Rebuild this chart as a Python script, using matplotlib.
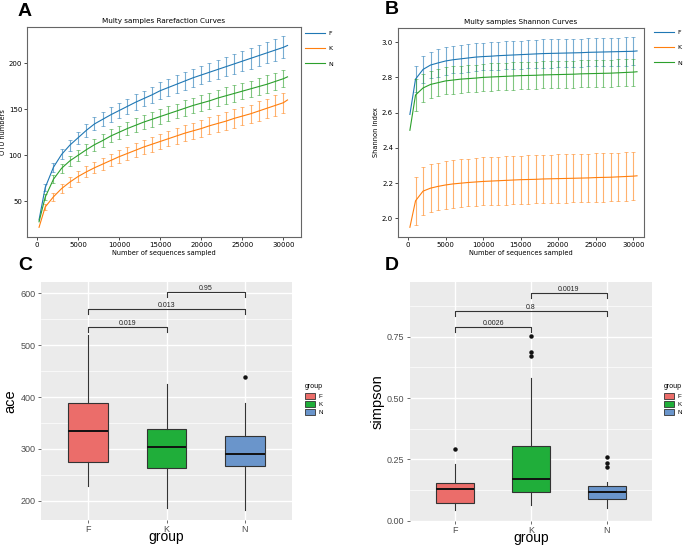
import matplotlib
matplotlib.use("Agg")
import matplotlib.pyplot as plt
from matplotlib.patches import Patch
from matplotlib.lines import Line2D

# ---- data -------------------------------------------------------------
groups = ["F", "K", "N"]

# rarefaction (panel A): curve points and error bars every 1000 reads
depth_curve = [250] + list(range(1000, 30001, 1000)) + [30500]
depth_err = list(range(1000, 30001, 1000))

otu_F = [30, 65, 87, 101, 111, 119, 127, 134, 139, 144,
         148.5, 153, 157.5, 161.5, 165.5, 170, 173.5, 177, 180.5, 184,
         187, 190, 193, 196, 199, 202, 205, 208, 211, 214, 217, 219]
otu_K = [22, 44, 55, 64, 71, 77, 82, 86.5, 90.5, 94.5,
         98.5, 102, 105.5, 109, 112, 115, 118, 121, 124, 126.5,
         129, 132, 134.5, 137, 140, 142.5, 145, 148, 151, 154, 157, 160]
otu_N = [28, 54.6, 74, 86, 94, 100, 106, 111.5, 116, 121,
         125, 129, 132.5, 136, 139, 142, 145, 148, 151, 154,
         156.5, 159, 162, 164.5, 167, 169.5, 172, 174.5, 177, 180, 183, 185]
otu_err_F = [4, 5, 5.5, 6, 6.5, 7, 7, 7.5, 8, 8, 8, 8.5, 8.5, 9, 9,
             9, 9.5, 9.5, 10, 10, 10, 10.5, 10.5, 11, 11, 11, 11.5, 11.5, 12, 12]
otu_err_K = [3, 4, 4.5, 5, 5.5, 6, 6, 6.5, 6.5, 7, 7, 7.5, 7.5, 8, 8,
             8, 8.5, 8.5, 9, 9, 9, 9.5, 9.5, 10, 10, 10, 10.5, 10.5, 11, 11]
otu_err_N = [3.5, 4.5, 5, 5.5, 6, 6, 6.5, 7, 7, 7, 7.5, 7.5, 7.5, 8, 8,
             8, 8, 8.5, 8.5, 8.5, 8.5, 9, 9, 9, 9, 9, 9.5, 9.5, 9.5, 9.5]

# shannon curves (panel B)
sh_F = [2.59, 2.79, 2.845, 2.87, 2.882, 2.893, 2.90, 2.905, 2.91, 2.915,
        2.918, 2.92, 2.923, 2.925, 2.927, 2.929, 2.931, 2.933, 2.935, 2.936,
        2.937, 2.938, 2.939, 2.94, 2.942, 2.943, 2.944, 2.945, 2.946, 2.947, 2.948, 2.95]
sh_K = [1.95, 2.10, 2.155, 2.172, 2.182, 2.19, 2.196, 2.20, 2.204, 2.207,
        2.21, 2.212, 2.214, 2.216, 2.218, 2.22, 2.221, 2.222, 2.224, 2.225,
        2.226, 2.227, 2.228, 2.229, 2.23, 2.232, 2.233, 2.234, 2.236, 2.238, 2.24, 2.242]
sh_N = [2.50, 2.70, 2.74, 2.76, 2.77, 2.78, 2.785, 2.79, 2.793, 2.796,
        2.80, 2.802, 2.804, 2.806, 2.808, 2.81, 2.811, 2.812, 2.814, 2.815,
        2.816, 2.817, 2.818, 2.82, 2.821, 2.822, 2.823, 2.824, 2.826, 2.828, 2.83, 2.832]
sh_err_F = [0.075, 0.076, 0.076, 0.077, 0.077, 0.077, 0.078, 0.078, 0.078, 0.078,
            0.078, 0.079, 0.079, 0.079, 0.079, 0.079, 0.079, 0.08, 0.08, 0.08,
            0.08, 0.08, 0.08, 0.08, 0.08, 0.08, 0.08, 0.08, 0.08, 0.08]
sh_err_K = [0.135, 0.135, 0.135, 0.135, 0.136, 0.136, 0.136, 0.136, 0.136, 0.136,
            0.136, 0.136, 0.137, 0.137, 0.137, 0.137, 0.137, 0.137, 0.137, 0.137,
            0.137, 0.137, 0.137, 0.137, 0.137, 0.137, 0.137, 0.137, 0.137, 0.137]
sh_err_N = [0.09, 0.08, 0.078, 0.077, 0.077, 0.077, 0.077, 0.077, 0.077, 0.077,
            0.077, 0.077, 0.077, 0.077, 0.077, 0.077, 0.077, 0.077, 0.077, 0.077,
            0.077, 0.077, 0.077, 0.077, 0.077, 0.077, 0.077, 0.077, 0.077, 0.077]

# ace boxplot (panel C): whislo, q1, median, q3, whishi, outliers
ace_whislo = [228, 187, 183]
ace_q1 = [275, 263, 268]
ace_med = [335, 303, 290]
ace_q3 = [388, 338, 325]
ace_whishi = [519, 425, 388]
ace_fliers = [[], [], [438]]
ace_pvals = [("F", "K", "0.019"), ("F", "N", "0.013"), ("K", "N", "0.95")]

# simpson boxplot (panel D)
simp_whislo = [0.043, 0.064, 0.050]
simp_q1 = [0.073, 0.118, 0.088]
simp_med = [0.129, 0.170, 0.118]
simp_q3 = [0.153, 0.306, 0.140]
simp_whishi = [0.230, 0.583, 0.156]
simp_fliers = [[0.293], [0.753, 0.689, 0.673], [0.261, 0.234, 0.219]]
simp_pvals = [("F", "K", "0.0026"), ("F", "N", "0.8"), ("K", "N", "0.0019")]

# ---- style --------------------------------------------------------------
W, H = 685, 545
line_cols = {"F": "#1f77b4", "K": "#ff7f0e", "N": "#2ca02c"}
box_cols = {"F": "#EB6D6A", "K": "#20AE3A", "N": "#6A95CB"}
GG = "Liberation Sans"

fig = plt.figure(figsize=(W / 100, H / 100), dpi=100)


def px_axes(l, t, r, b):
    return fig.add_axes([l / W, 1 - b / H, (r - l) / W, (b - t) / H])


def curve_panel(ax, curves, errs, title, ylabel, xlim, ylim, yticks, leg_xy):
    for g in groups:
        c = line_cols[g]
        ax.plot(depth_curve, curves[g], color=c, lw=0.8, label=g)
        pts = curves[g][1:31]
        ax.errorbar(depth_err, pts, yerr=errs[g], fmt="none", ecolor=c,
                    elinewidth=0.8, capsize=1.2, capthick=0.6, alpha=0.6)
    ax.set_xlim(*xlim)
    ax.set_ylim(*ylim)
    ax.set_xticks(range(0, 30001, 5000))
    ax.set_yticks(yticks)
    ax.tick_params(labelsize=5, length=2, width=0.5, pad=1.5)
    for s in ax.spines.values():
        s.set_color("#666666")
        s.set_linewidth(0.8)
    ax.set_title(title, fontsize=5.2, pad=3)
    ax.set_xlabel("Number of sequences sampled", fontsize=4.8, labelpad=1.5)
    ax.set_ylabel(ylabel, fontsize=4.8, labelpad=2)
    handles = [Line2D([], [], color=line_cols[g], lw=0.8) for g in groups]
    ax.legend(handles, groups, loc="upper left", bbox_to_anchor=leg_xy,
              bbox_transform=fig.transFigure, frameon=False, fontsize=4.5,
              handlelength=3.2, labelspacing=1.6, handletextpad=0.6,
              borderaxespad=0)


def box_panel(ax, whislo, q1, med, q3, whishi, fliers, pvals, bracket_y,
              tick_drop, ylabel, ylim, yticks, yminor, ylabels, leg_xy):
    ax.set_facecolor("#EBEBEB")
    for s in ax.spines.values():
        s.set_visible(False)
    for y in yticks:
        ax.axhline(y, color="white", lw=1.0, zorder=0)
    for y in yminor:
        ax.axhline(y, color="white", lw=0.5, zorder=0)
    pos = [1, 2, 3]
    for x in pos:
        ax.axvline(x, color="white", lw=1.0, zorder=0)
    stats = []
    for i, g in enumerate(groups):
        stats.append(dict(med=med[i], q1=q1[i], q3=q3[i], whislo=whislo[i],
                          whishi=whishi[i], fliers=fliers[i], label=g))
    bp = ax.bxp(stats, positions=pos, widths=0.5, patch_artist=True,
                showcaps=False,
                boxprops=dict(edgecolor="#333333", linewidth=0.8),
                whiskerprops=dict(color="#333333", linewidth=0.8),
                medianprops=dict(color="#111111", linewidth=1.4),
                flierprops=dict(marker="o", markersize=2.2,
                                markerfacecolor="#111111",
                                markeredgecolor="#111111"))
    for patch, g in zip(bp["boxes"], groups):
        patch.set_facecolor(box_cols[g])
    for (a, b, lab), y in zip(pvals, bracket_y):
        xa, xb = groups.index(a) + 1, groups.index(b) + 1
        ax.plot([xa, xa, xb, xb], [y - tick_drop, y, y, y - tick_drop],
                color="#333333", lw=0.8)
        ax.text((xa + xb) / 2, y, lab, ha="center", va="bottom",
                fontsize=5, family=GG, color="#222222")
    ax.set_xlim(0.4, 3.6)
    ax.set_ylim(*ylim)
    ax.set_xticks(pos)
    ax.set_xticklabels(groups)
    ax.set_yticks(yticks)
    ax.set_yticklabels(ylabels)
    ax.tick_params(labelsize=6.5, colors="#333333", labelcolor="#4D4D4D",
                   length=2.5, width=0.5, pad=1.5)
    ax.tick_params(axis="x", pad=0.8)
    for t in ax.get_xticklabels() + ax.get_yticklabels():
        t.set_family(GG)
    ax.set_xlabel("group", fontsize=10, family=GG)
    ax.xaxis.label.set_va("baseline")
    ax.xaxis.set_label_coords(0.5, -20.5 / 238)
    ax.set_ylabel(ylabel, fontsize=10.5, family=GG, labelpad=2)
    handles = [Patch(facecolor=box_cols[g], edgecolor="#333333", lw=0.6)
               for g in groups]
    leg = ax.legend(handles, groups, title="group", loc="upper left",
                    bbox_to_anchor=leg_xy, bbox_transform=fig.transFigure,
                    frameon=False, prop=dict(family=GG, size=4.5),
                    handlelength=1.6, handleheight=1.1, labelspacing=0.35,
                    handletextpad=0.6, borderaxespad=0)
    leg.get_title().set_fontsize(5)
    leg.get_title().set_family(GG)
    leg._legend_box.align = "left"


# ---- panel A ----------------------------------------------------------
axA = px_axes(27, 27, 301, 237)
curve_panel(axA, {"F": otu_F, "K": otu_K, "N": otu_N},
            {"F": otu_err_F, "K": otu_err_K, "N": otu_err_N},
            "Multy samples Rarefaction Curves", "OTU numbers",
            (-1216, 32140), (11.5, 239), [50, 100, 150, 200],
            (302 / W, 1 - 28 / H))

# ---- panel B ----------------------------------------------------------
axB = px_axes(398, 28, 644, 237)
curve_panel(axB, {"F": sh_F, "K": sh_K, "N": sh_N},
            {"F": sh_err_F, "K": sh_err_K, "N": sh_err_N},
            "Multy samples Shannon Curves", "Shannon index",
            (-1333, 31427), (1.895, 3.08), [2.0, 2.2, 2.4, 2.6, 2.8, 3.0],
            (651 / W, 1 - 27 / H))

# ---- panel C ----------------------------------------------------------
axC = px_axes(41, 282, 292, 520)
box_panel(axC, ace_whislo, ace_q1, ace_med, ace_q3, ace_whishi, ace_fliers,
          ace_pvals, [536, 570, 603], 10, "ace", (163, 622),
          [200, 300, 400, 500, 600], [250, 350, 450, 550],
          ["200", "300", "400", "500", "600"], (302 / W, 1 - 381 / H))

# ---- panel D ----------------------------------------------------------
axD = px_axes(410, 282, 652, 521)
box_panel(axD, simp_whislo, simp_q1, simp_med, simp_q3, simp_whishi,
          simp_fliers, simp_pvals, [0.789, 0.856, 0.928], 0.021, "simpson",
          (-0.002, 0.974), [0.0, 0.25, 0.5, 0.75], [0.125, 0.375, 0.625, 0.875],
          ["0.00", "0.25", "0.50", "0.75"], (661 / W, 1 - 381 / H))

# ---- panel letters ----------------------------------------------------
for lab, x, y in [("A", 18, 12), ("B", 385, 10), ("C", 18, 265), ("D", 385, 265)]:
    fig.text(x / W, 1 - y / H, lab, fontsize=14, fontweight="bold",
             family=GG, ha="left", va="center")

fig.savefig("out.png", dpi=100, facecolor="white")
